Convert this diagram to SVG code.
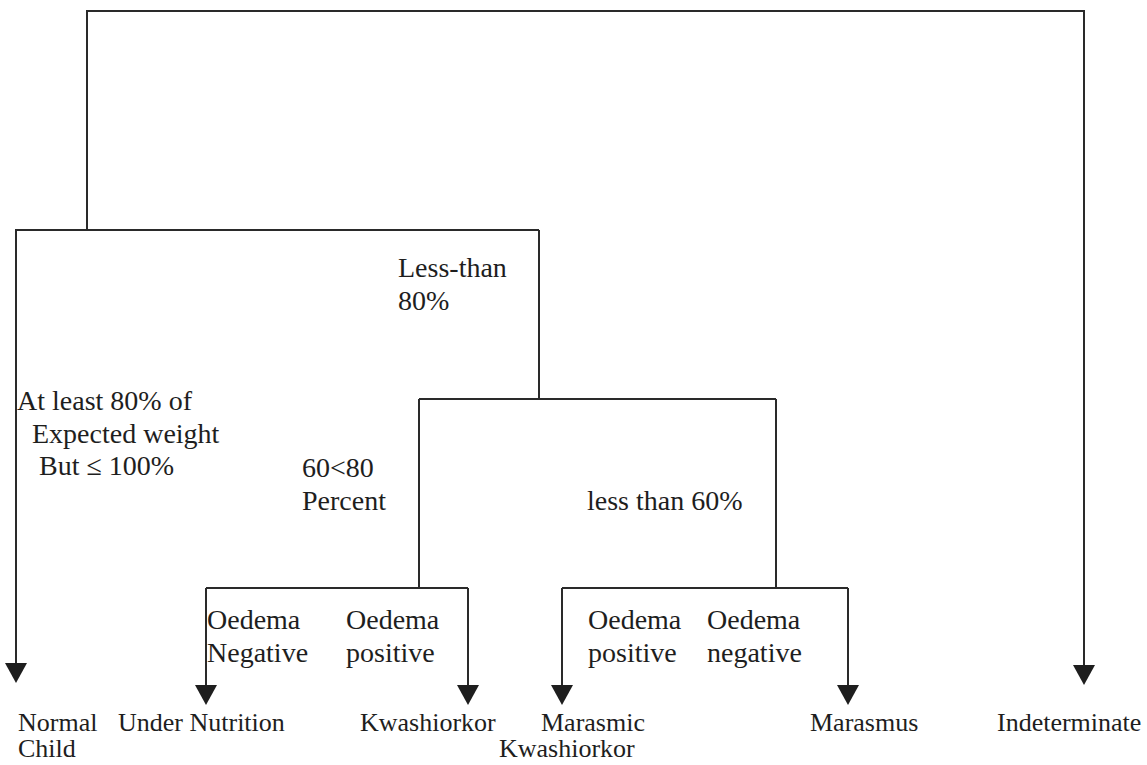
<svg xmlns="http://www.w3.org/2000/svg" width="1147" height="765" viewBox="0 0 1147 765">
  <defs>
    <style>
      .ln { fill: none; stroke: #2a2a2a; stroke-width: 2; }
      .t { font-size: 28px; fill: #1e1e1e; }
      .b { font-size: 26px; fill: #1e1e1e; }
    </style>
    <marker id="arr" viewBox="0 0 20 22" refX="17" refY="11" markerWidth="20" markerHeight="22" markerUnits="userSpaceOnUse" orient="auto">
      <path d="M0,0 L20,11 L0,22 Z" fill="#1e1e1e"/>
    </marker>
  </defs>
  <rect width="1147" height="765" fill="#ffffff"/>

  <g id="connectors">
    <path class="ln" d="M87,230 V11 H1084 V682" marker-end="url(#arr)"/>
    <path class="ln" d="M539,230 H16 V680" marker-end="url(#arr)"/>
    <path class="ln" d="M539,230 V399"/>
    <path class="ln" d="M419,399 H776"/>
    <path class="ln" d="M419,399 V588"/>
    <path class="ln" d="M206,588 H468"/>
    <path class="ln" d="M206,588 V702" marker-end="url(#arr)"/>
    <path class="ln" d="M468,588 V702" marker-end="url(#arr)"/>
    <path class="ln" d="M776,399 V588"/>
    <path class="ln" d="M562,588 H848"/>
    <path class="ln" d="M562,588 V702" marker-end="url(#arr)"/>
    <path class="ln" d="M848,588 V702" marker-end="url(#arr)"/>
  </g>

  <g id="labels" font-family="'Liberation Serif', 'Times New Roman', 'DejaVu Serif', serif">
    <g id="label-less-than-80">
      <text class="t" x="398" y="277">Less-than</text>
      <text class="t" x="398" y="310">80%</text>
    </g>
    <g id="label-at-least-80">
      <text class="t" x="17" y="410">At least 80% of</text>
      <text class="t" x="32" y="443">Expected weight</text>
      <text class="t" x="39" y="475">But ≤ 100%</text>
    </g>
    <g id="label-60-80">
      <text class="t" x="302" y="477">60&lt;80</text>
      <text class="t" x="302" y="510">Percent</text>
    </g>
    <g id="label-less-than-60">
      <text class="t" x="587" y="510">less than 60%</text>
    </g>
    <g id="label-oedema-negative-1">
      <text class="t" x="207" y="629">Oedema</text>
      <text class="t" x="207" y="662">Negative</text>
    </g>
    <g id="label-oedema-positive-1">
      <text class="t" x="346" y="629">Oedema</text>
      <text class="t" x="346" y="662">positive</text>
    </g>
    <g id="label-oedema-positive-2">
      <text class="t" x="588" y="629">Oedema</text>
      <text class="t" x="588" y="662">positive</text>
    </g>
    <g id="label-oedema-negative-2">
      <text class="t" x="707" y="629">Oedema</text>
      <text class="t" x="707" y="662">negative</text>
    </g>
  </g>

  <g id="nodes" font-family="'Liberation Serif', 'Times New Roman', 'DejaVu Serif', serif">
    <g id="node-normal-child">
      <text class="b" x="18" y="731">Normal</text>
      <text class="b" x="18" y="757">Child</text>
    </g>
    <g id="node-under-nutrition">
      <text class="b" x="118" y="731">Under Nutrition</text>
    </g>
    <g id="node-kwashiorkor">
      <text class="b" x="360" y="731">Kwashiorkor</text>
    </g>
    <g id="node-marasmic-kwashiorkor">
      <text class="b" x="541" y="731">Marasmic</text>
      <text class="b" x="499" y="757">Kwashiorkor</text>
    </g>
    <g id="node-marasmus">
      <text class="b" x="810" y="731">Marasmus</text>
    </g>
    <g id="node-indeterminate">
      <text class="b" x="997" y="731">Indeterminate</text>
    </g>
  </g>
</svg>
